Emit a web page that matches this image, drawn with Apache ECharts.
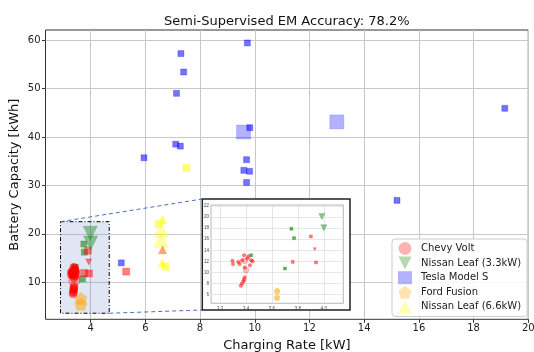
<!DOCTYPE html>
<html>
<head>
<meta charset="utf-8">
<script src="https://cdn.jsdelivr.net/npm/echarts@6/dist/echarts.min.js"></script>
<style>
html,body{margin:0;padding:0;background:#fff}
#main{width:534px;height:352px}
</style>
</head>
<body>
<div id="main"></div>
<script>
// tick labels
var xTicks = [4, 6, 8, 10, 12, 14, 16, 18, 20];
var yTicks = [10, 20, 30, 40, 50, 60];
var insetXTicks = [3.2, 3.4, 3.6, 3.8, 4.0];
var insetYTicks = [6, 8, 10, 12, 14, 16, 18, 20, 22];
// zoomed region [x0, y0, x1, y1]
var zoomBox = [2.9, 3.6, 4.68, 22.5];

// true class -> predicted class
var voltPts = [[3.295,12.1],[3.30,11.5],[3.34,11.9],[3.35,11.5],[3.37,12.2],[3.385,13.1],[3.41,12.5],
  [3.42,12.9],[3.44,12.2],[3.45,12.0],[3.43,11.3],[3.39,10.9],[3.39,9.1],[3.385,8.7],[3.38,8.4],[3.37,8.0],[3.36,7.6]];
var voltBig = [[3.39,12.05],[3.40,10.4]];
var leaf33Pts = [[3.985,20.1],[4.0,18.1]];
var leaf33AsVolt = [[3.93,14.2]];
var teslaPts = [[9.73,59.4],[7.30,57.2],[7.40,53.4],[7.14,49.0],[9.82,41.9],[7.11,38.5],[7.28,38.1],
  [5.95,35.7],[9.70,35.3],[9.60,33.1],[9.81,32.9],[9.70,30.6],[19.14,45.9],[15.2,26.9],[5.12,14.0]];
var teslaBig = [[9.59,41.0],[13.0,43.1]];
var teslaAsLeaf33 = [[3.75,17.9],[3.77,16.2],[3.70,10.7],[3.44,13.1]];
var teslaAsVolt = [[3.90,16.5],[3.76,11.9],[3.94,11.8],[5.30,12.2]];
var teslaAsLeaf66 = [[7.50,33.6],[6.49,22.0],[6.73,13.2]];
var fusionPts = [[3.64,6.65],[3.64,5.45]];
var leaf66Pts = [[6.63,22.9],[6.62,14.0]];
var leaf66Big = [[6.58,20.8],[6.58,18.7]];
var leaf66AsVolt = [[6.63,16.7]];

var RED = '#ff0000', GREEN = '#008000', BLUE = '#0000ff', ORANGE = '#ffa500', YELLOW = '#ffff00';
var PENTA = 'path://M5,0 L10,3.8 L8.1,10 L1.9,10 L0,3.8 Z';
var DOWN = 'path://M0,0 L10,0 L5,10 Z';

var chart = echarts.init(document.getElementById('main'));

function mk(name, data, symbol, color, size, opacity, inset) {
  var s = {
    name: name, type: 'scatter', data: data, symbol: symbol, symbolSize: size,
    itemStyle: {color: color, opacity: opacity, borderColor: color, borderWidth: 0.5},
    xAxisIndex: inset ? 1 : 0, yAxisIndex: inset ? 1 : 0,
    z: 3, silent: true, animation: false
  };
  if (inset) { s.zlevel = 1; s.clip = true; }
  return s;
}

var series = [
  {
    type: 'custom', xAxisIndex: 0, yAxisIndex: 0, z: 1, silent: true,
    data: [zoomBox], encode: {x: [0, 2], y: [1, 3]},
    renderItem: function (params, api) {
      var p0 = api.coord([api.value(0), api.value(3)]);
      var p1 = api.coord([api.value(2), api.value(1)]);
      return {type: 'rect', shape: {x: p0[0], y: p0[1], width: p1[0] - p0[0], height: p1[1] - p0[1]},
        style: {fill: 'rgba(100,130,200,0.2)', stroke: '#000', lineWidth: 1, lineDash: [4, 2, 1, 2]}};
    }
  },
  // main plot
  mk('Tesla Model S', teslaPts, 'rect', BLUE, 6, 0.55),
  mk('tb', teslaBig, 'rect', BLUE, 14, 0.3),
  mk('ty', teslaAsLeaf66, 'rect', YELLOW, 7, 0.55),
  mk('Nissan Leaf (6.6kW)', leaf66Pts, 'triangle', YELLOW, 8, 0.6),
  mk('yb', leaf66Big, 'triangle', YELLOW, 15, 0.35),
  mk('yr', leaf66AsVolt, 'triangle', '#ff5a00', 8, 0.55),
  mk('tg', teslaAsLeaf33, 'rect', GREEN, 6, 0.55),
  mk('tr', teslaAsVolt, 'rect', RED, 7, 0.5),
  mk('Nissan Leaf (3.3kW)', leaf33Pts, DOWN, GREEN, 14, 0.4),
  mk('gr', leaf33AsVolt, DOWN, RED, 6, 0.5),
  mk('Chevy Volt', voltPts, 'circle', RED, 8, 0.55),
  mk('vb', voltBig, 'circle', RED, 12, 0.25),
  mk('Ford Fusion', fusionPts, PENTA, ORANGE, 12, 0.5),
  // inset
  mk('i1', teslaAsLeaf33, 'rect', GREEN, 3, 0.6, true),
  mk('i2', teslaAsVolt, 'rect', RED, 3, 0.5, true),
  mk('i3', leaf33Pts, DOWN, GREEN, 6, 0.45, true),
  mk('i4', leaf33AsVolt, DOWN, RED, 3, 0.5, true),
  mk('i5', voltPts, 'circle', RED, 3.5, 0.5, true),
  mk('i6', voltBig, 'circle', RED, 6, 0.25, true),
  mk('i7', fusionPts, PENTA, ORANGE, 6, 0.55, true)
];

function legendItem(name, icon, color) {
  return {name: name, icon: icon, itemStyle: {color: color, opacity: 0.3, borderWidth: 0}};
}

var option = {
  backgroundColor: '#fff',
  animation: false,
  title: {
    text: 'Semi-Supervised EM Accuracy: 78.2%', left: 159, top: 10,
    textStyle: {fontFamily: 'DejaVu Sans', fontSize: 13, fontWeight: 'normal', color: '#111'}
  },
  legend: {
    left: 392, top: 239, orient: 'vertical', itemWidth: 14, itemHeight: 13, itemGap: 1.6,
    padding: [3, 6, 3, 6], borderColor: '#ccc', borderWidth: 1, borderRadius: 3,
    backgroundColor: 'rgba(255,255,255,0.85)',
    textStyle: {fontFamily: 'DejaVu Sans', fontSize: 10, lineHeight: 12, color: '#222', padding: [0, 0, 0, 4]},
    data: [
      legendItem('Chevy Volt', 'circle', RED),
      legendItem('Nissan Leaf (3.3kW)', DOWN, GREEN),
      legendItem('Tesla Model S', 'rect', BLUE),
      legendItem('Ford Fusion', PENTA, ORANGE),
      legendItem('Nissan Leaf (6.6kW)', 'triangle', YELLOW)
    ],
    selectedMode: false
  },
  grid: [
    {left: 45.5, top: 30, width: 482.8, height: 289.3, show: true, borderColor: '#333', borderWidth: 1,
     containLabel: false, outerBoundsMode: 'none'},
    {left: 211, top: 205, width: 132.3, height: 98.3, show: true, borderColor: '#999', borderWidth: 0.7,
     backgroundColor: '#fff', zlevel: 1, z: 1, containLabel: false, outerBoundsMode: 'none'}
  ],
  xAxis: [
    {
      type: 'value', gridIndex: 0, min: 2.35, max: 20,
      name: 'Charging Rate [kW]', nameLocation: 'middle', nameGap: 20, nameMoveOverlap: false,
      nameTextStyle: {fontFamily: 'DejaVu Sans', fontSize: 13, color: '#111'},
      axisLine: {show: false},
      axisTick: {show: true, length: 3.5, lineStyle: {color: '#333'}, customValues: xTicks},
      axisLabel: {customValues: xTicks, fontFamily: 'DejaVu Sans', fontSize: 10, color: '#222', margin: 4},
      splitLine: {show: true, lineStyle: {color: '#c8c8c8', width: 1}}
    },
    {
      type: 'value', gridIndex: 1, min: 3.13, max: 4.15, zlevel: 1, z: 1,
      axisLine: {show: false},
      axisTick: {show: false, customValues: insetXTicks},
      axisLabel: {customValues: insetXTicks, fontSize: 4.5, color: '#444', margin: 3,
        formatter: function (v) { return v.toFixed(1); }},
      splitLine: {show: true, lineStyle: {color: '#ddd', width: 0.7}}
    }
  ],
  yAxis: [
    {
      type: 'value', gridIndex: 0, min: 2.35, max: 62.07,
      name: 'Battery Capacity [kWh]', nameLocation: 'middle', nameGap: 24, nameMoveOverlap: false,
      nameTextStyle: {fontFamily: 'DejaVu Sans', fontSize: 13, color: '#111'},
      axisLine: {show: false},
      axisTick: {show: true, length: 3.5, lineStyle: {color: '#333'}, customValues: yTicks},
      axisLabel: {customValues: yTicks, fontFamily: 'DejaVu Sans', fontSize: 10, color: '#222', margin: 5},
      splitLine: {show: true, lineStyle: {color: '#c8c8c8', width: 1}}
    },
    {
      type: 'value', gridIndex: 1, min: 4.4, max: 22.2, zlevel: 1, z: 1,
      axisLine: {show: false},
      axisTick: {show: false, customValues: insetYTicks},
      axisLabel: {customValues: insetYTicks, fontSize: 4.5, color: '#444', margin: 2},
      splitLine: {show: true, lineStyle: {color: '#ddd', width: 0.7}}
    }
  ],
  series: series
};

chart.setOption(option);

// inset frame and the two connector lines
var boxL = 202.3, boxT = 199, boxW = 147.7, boxH = 111;
var pTL = chart.convertToPixel({gridIndex: 0}, [zoomBox[0], zoomBox[3]]);
var pBR = chart.convertToPixel({gridIndex: 0}, [zoomBox[2], zoomBox[1]]);
chart.setOption({
  graphic: [
    {type: 'rect', zlevel: 1, z: 0, silent: true,
     shape: {x: boxL, y: boxT, width: boxW, height: boxH},
     style: {fill: '#fff', stroke: '#222', lineWidth: 1.5}},
    {type: 'line', z: 50, silent: true,
     shape: {x1: pTL[0], y1: pTL[1], x2: boxL, y2: boxT},
     style: {stroke: '#4a6fc0', lineWidth: 1, lineDash: [4, 3]}},
    {type: 'line', z: 50, silent: true,
     shape: {x1: pBR[0], y1: pBR[1], x2: boxL, y2: boxT + boxH},
     style: {stroke: '#4a6fc0', lineWidth: 1, lineDash: [4, 3]}}
  ]
});
</script>
</body>
</html>
